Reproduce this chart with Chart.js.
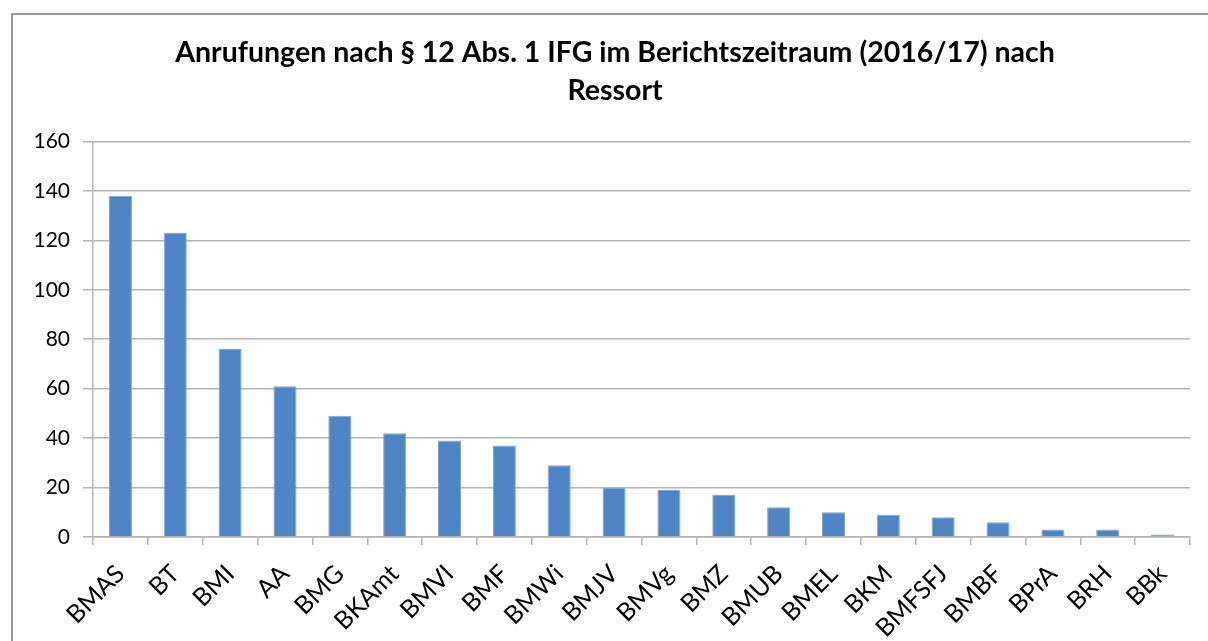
<!DOCTYPE html>
<html>
<head>
<meta charset="utf-8">
<script src="https://cdn.jsdelivr.net/npm/chart.js@4/dist/chart.umd.min.js"></script>
<style>
  body { margin: 0; background: #fff; }
  #wrap { position: relative; width: 1208px; height: 641px; overflow: hidden; }
  #frame { position: absolute; left: 11px; top: 13px; width: 1220px; height: 660px;
           border-top: 2px solid #999; border-left: 2px solid #999; }
  canvas { position: absolute; left: 0; top: 0; }
</style>
</head>
<body>
<div id="wrap">
  <div id="frame"></div>
  <canvas id="chart" width="1208" height="641"></canvas>
</div>
<script>
const categories = ['BMAS', 'BT', 'BMI', 'AA', 'BMG', 'BKAmt', 'BMVI', 'BMF', 'BMWi', 'BMJV',
  'BMVg', 'BMZ', 'BMUB', 'BMEL', 'BKM', 'BMFSFJ', 'BMBF', 'BPrA', 'BRH', 'BBk'];
const anrufungen = [138, 123, 76, 61, 49, 42, 39, 37, 29, 20, 19, 17, 12, 10, 9, 8, 6, 3, 3, 1];
const yTicks = [0, 20, 40, 60, 80, 100, 120, 140, 160];

const fontFamily = 'Lato, "Open Sans", sans-serif';
const gridGray = '#b4b4b4';

// title in the original sits centred over the page frame, not the canvas
const shiftTitle = {
  id: 'shiftTitle',
  afterLayout(chart) {
    if (chart.titleBlock) chart.titleBlock.left += 40;
  }
};

new Chart(document.getElementById('chart'), {
  type: 'bar',
  data: {
    labels: categories,
    datasets: [{
      data: anrufungen,
      backgroundColor: '#4f85c4',
      borderColor: '#7ea6d8',
      borderWidth: 1,
      barPercentage: 0.42,
      categoryPercentage: 1
    }]
  },
  options: {
    responsive: false,
    animation: false,
    layout: { padding: { left: 0, right: 18, top: 34, bottom: 0 } },
    plugins: {
      legend: { display: false },
      tooltip: { enabled: false },
      title: {
        display: true,
        text: ['Anrufungen nach § 12 Abs. 1 IFG im Berichtszeitraum (2016/17) nach', 'Ressort'],
        color: '#000',
        font: { family: fontFamily, size: 28.5, weight: 'bold', lineHeight: 1.34 },
        padding: { top: 0, bottom: 31 }
      }
    },
    scales: {
      x: {
        grid: { offset: true, drawOnChartArea: false, tickLength: 8, color: gridGray, lineWidth: 1.5 },
        border: { color: gridGray, width: 1.5 },
        ticks: { color: '#000', font: { family: fontFamily, size: 25 }, minRotation: 45, maxRotation: 45, padding: 14 },
        afterFit: s => { s.height = 104; }
      },
      y: {
        min: 0,
        max: 160,
        afterBuildTicks: s => { s.ticks = yTicks.map(v => ({ value: v })); },
        grid: { color: gridGray, lineWidth: 1.5, tickLength: 10 },
        border: { color: gridGray, width: 1.5 },
        ticks: { color: '#000', font: { family: fontFamily, size: 21 }, padding: 13 },
        afterFit: s => { s.width = 93; }
      }
    }
  },
  plugins: [shiftTitle]
});
</script>
</body>
</html>
